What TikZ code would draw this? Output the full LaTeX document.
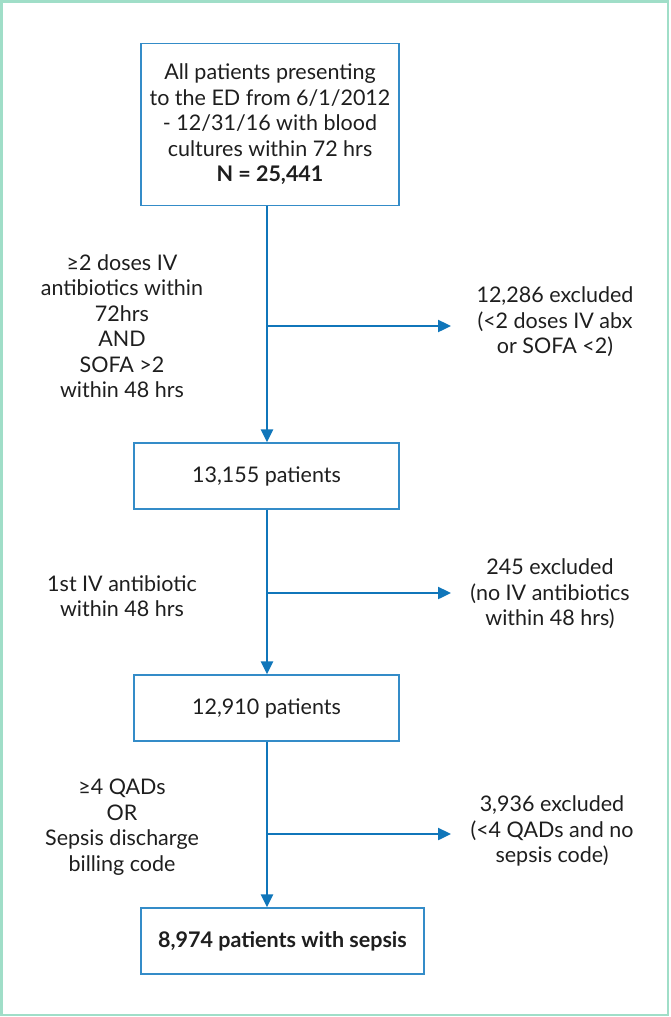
\documentclass[tikz,border=0pt]{standalone}
\usepackage{fontspec}
\setmainfont{Lato}
\usetikzlibrary{arrows.meta}
\definecolor{frame}{RGB}{160,222,200}
\definecolor{flow}{RGB}{16,118,186}
\definecolor{boxc}{RGB}{52,140,200}
\definecolor{txt}{RGB}{30,30,30}
\tikzset{
  flowbox/.style={draw=boxc, line width=1.3pt, fill=white, align=center, text=txt, inner sep=0pt},
  lbl/.style={align=center, text=txt, inner sep=0pt},
  conn/.style={draw=flow, line width=2.4pt},
  arr/.style={conn, -{Triangle[length=13pt,width=12pt]}},
}
\begin{document}
\begin{tikzpicture}[x=1pt,y=-1pt, font=\fontsize{21.5}{25.5}\selectfont]
\useasboundingbox (0,0) rectangle (671,1017);
\draw[frame, line width=2.2pt] (1.5,1.5) rectangle (668,1015);

\node[flowbox, minimum width=258pt, minimum height=162pt] (box1) at (270,124.5)
  {All patients presenting\\to the ED from 6/1/2012\\- 12/31/16 with blood\\cultures within 72 hrs\\\textbf{N = 25,441}};
\node[flowbox, minimum width=265pt, minimum height=66pt] (box2) at (266.5,476) {13,155 patients};
\node[flowbox, minimum width=265pt, minimum height=66pt] (box3) at (266.5,708) {12,910 patients};
\node[flowbox, minimum width=283pt, minimum height=66pt] (box4) at (282.5,941) {\textbf{8,974 patients with sepsis}};

\node[lbl] (c1) at (122,326) {≥2 doses IV\\antibiotics within\\72hrs\\AND\\SOFA >2\\within 48 hrs};
\node[lbl] (c2) at (122,596) {1st IV antibiotic\\within 48 hrs};
\node[lbl] (c3) at (122,827) {≥4 QADs\\OR\\Sepsis discharge\\billing code};

\node[lbl] (e1) at (555,322) {12,286 excluded\\(<2 doses IV abx\\or SOFA <2)};
\node[lbl] (e2) at (550,594) {245 excluded\\(no IV antibiotics\\within 48 hrs)};
\node[lbl] (e3) at (552,831) {3,936 excluded\\(<4 QADs and no\\sepsis code)};

\coordinate (v) at (267,0);
\coordinate (b1) at (267,326);
\coordinate (b2) at (267,593);
\coordinate (b3) at (267,834);
\coordinate (t1) at (451,326);
\coordinate (t2) at (451,593);
\coordinate (t3) at (451,834);

\draw[arr] (box1.south -| v) -- (box2.north -| v);
\draw[arr] (box2.south -| v) -- (box3.north -| v);
\draw[arr] (box3.south -| v) -- (box4.north -| v);
\draw[arr] (b1) -- (t1);
\draw[arr] (b2) -- (t2);
\draw[arr] (b3) -- (t3);
\end{tikzpicture}
\end{document}
